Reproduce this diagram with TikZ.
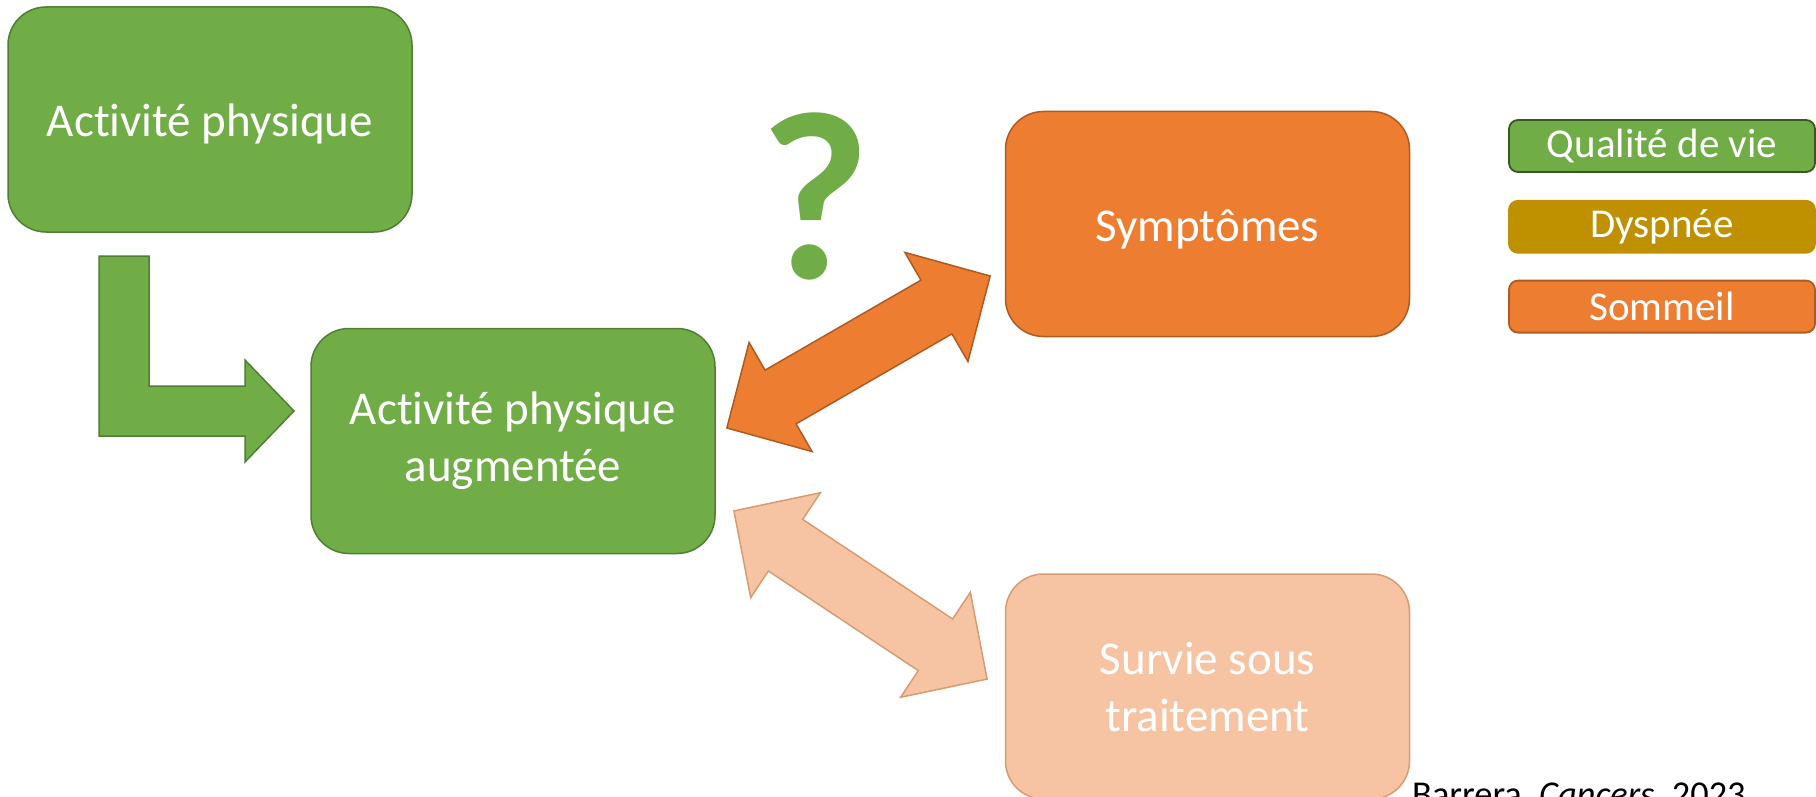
\documentclass[tikz,border=0pt]{standalone}
\usepackage{fontspec}
\setmainfont[Ligatures=NoCommon]{Carlito}
\usepackage{xcolor}
\usepackage{tikz}
\usetikzlibrary{positioning}

\definecolor{vert}{HTML}{70AD47}
\definecolor{vertfonce}{HTML}{507E32}
\definecolor{vertlegende}{HTML}{385723}
\definecolor{orangeb}{HTML}{ED7D31}
\definecolor{orangefonce}{HTML}{AE5A21}
\definecolor{peche}{HTML}{F6C4A3}
\definecolor{pechefonce}{HTML}{D99B70}
\definecolor{ocre}{HTML}{BF9000}

\begin{document}
\begin{tikzpicture}[x=1pt, y=-1pt,
  bloc/.style={rounded corners=38pt, minimum width=404pt, minimum height=225pt, line width=1.5pt,
    text=white, align=center, font=\fontsize{47}{57}\selectfont,
    execute at begin node=\rule{0pt}{42pt}},
  legende/.style={rounded corners=9pt, minimum width=306pt, minimum height=52pt, line width=1.8pt,
    text=white, inner sep=0pt, font=\fontsize{41}{49}\selectfont},
  doublefleche/.pic={\path[pic actions] (-152,0) -- (-90,-63) -- (-90,-31) -- (90,-31) -- (90,-63)
    -- (152,0) -- (90,63) -- (90,31) -- (-90,31) -- (-90,63) -- cycle;}]
\useasboundingbox (0,0) rectangle (1816,797);
\clip (0,0) rectangle (1816,797);

% blocs
\node[bloc, fill=vert, draw=vertfonce] (ap) at (210,119.5) {Activité physique};
\node[bloc, fill=vert, draw=vertfonce] (apa) at (513,441) {Activité physique\\augmentée};
\node[bloc, fill=orangeb, draw=orangefonce] (sym) at (1207.5,224) {Symptômes};
\node[bloc, fill=peche, draw=pechefonce, below=236pt of sym] (surv) {Survie sous\\traitement};

% fleche coudee
\draw[vertfonce, fill=vert, line width=1.5pt] (99,256) -- (149,256) -- (149,386) -- (245,386)
  -- (245,360) -- (294,411) -- (245,462) -- (245,436) -- (99,436) -- cycle;

% doubles fleches
\pic[fill=orangeb, draw=orangefonce, line width=1.5pt, rotate=30] at (858.5,352) {doublefleche};
\pic[fill=peche, draw=pechefonce, line width=1.5pt, rotate=-33.6] at (860.5,595) {doublefleche};

\node[text=vert, anchor=base, inner sep=0pt, font=\fontsize{240}{240}\selectfont\bfseries] (qm) at (815,278) {?};

% legende
\node[legende, fill=vert, draw=vertlegende] (qdv) at (1662,146) {Qualité de vie};
\node[legende, fill=ocre, draw=ocre, below=27pt of qdv] (dys) {Dyspnée};
\node[legende, fill=orangeb, draw=orangefonce, below=26pt of dys] (som) {Sommeil};

\node[anchor=base west, inner sep=0pt, font=\fontsize{36.4}{44}\selectfont] (ref) at (1412,806.5)
  {Barrera, \textit{Cancers}, 2023};
\end{tikzpicture}
\end{document}
